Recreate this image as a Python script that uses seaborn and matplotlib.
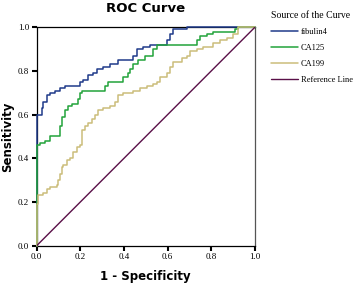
import numpy as np
import pandas as pd
import matplotlib
matplotlib.use("Agg")
import matplotlib.pyplot as plt
import seaborn as sns

# step points: (1 - specificity where the jump happens, sensitivity after the jump)
fib_x = [0.0, 0.023, 0.030, 0.046, 0.061, 0.084, 0.107, 0.130, 0.198, 0.214, 0.237,
         0.260, 0.275, 0.305, 0.336, 0.374, 0.443, 0.458, 0.489, 0.519, 0.595, 0.611,
         0.626, 0.687, 1.0]
fib_y = [0.60, 0.63, 0.66, 0.69, 0.70, 0.71, 0.72, 0.73, 0.75, 0.76, 0.78,
         0.79, 0.81, 0.82, 0.83, 0.85, 0.87, 0.90, 0.91, 0.92, 0.94, 0.97,
         0.99, 1.00, 1.00]

ca125_x = [0.0, 0.015, 0.038, 0.061, 0.107, 0.115, 0.130, 0.145, 0.160, 0.191, 0.198,
           0.206, 0.313, 0.328, 0.397, 0.420, 0.427, 0.443, 0.466, 0.496, 0.534, 0.550,
           0.733, 0.748, 0.779, 0.809, 0.908, 0.924, 1.0]
ca125_y = [0.46, 0.47, 0.48, 0.50, 0.55, 0.59, 0.62, 0.64, 0.65, 0.67, 0.70,
           0.71, 0.73, 0.75, 0.77, 0.79, 0.81, 0.83, 0.85, 0.87, 0.90, 0.92,
           0.94, 0.96, 0.97, 0.98, 0.99, 1.00, 1.00]

ca199_x = [0.0, 0.008, 0.031, 0.046, 0.061, 0.092, 0.099, 0.107, 0.115, 0.122, 0.137,
           0.153, 0.168, 0.183, 0.198, 0.206, 0.221, 0.237, 0.252, 0.267, 0.282, 0.305,
           0.336, 0.359, 0.374, 0.397, 0.443, 0.473, 0.504, 0.534, 0.550, 0.565, 0.595,
           0.611, 0.626, 0.664, 0.687, 0.702, 0.733, 0.763, 0.809, 0.840, 0.870, 0.901,
           0.924, 1.0]
ca199_y = [0.19, 0.23, 0.24, 0.26, 0.27, 0.28, 0.30, 0.33, 0.36, 0.37, 0.39,
           0.40, 0.43, 0.45, 0.46, 0.53, 0.55, 0.56, 0.58, 0.60, 0.62, 0.63,
           0.64, 0.66, 0.69, 0.70, 0.71, 0.72, 0.73, 0.74, 0.75, 0.77, 0.79,
           0.82, 0.84, 0.86, 0.87, 0.89, 0.90, 0.91, 0.93, 0.94, 0.95, 0.97,
           1.00, 1.00]

ref_x = [0.0, 1.0]
ref_y = [0.0, 1.0]

labels = ["fibulin4", "CA125", "CA199", "Reference Line"]
colors = ["#1f3a8a", "#22a33a", "#cbbd7a", "#5a1048"]

sns.set_theme(style="ticks")
plt.rcParams.update({"text.color": "black", "axes.labelcolor": "black",
                     "xtick.color": "black", "ytick.color": "black"})

fig = plt.figure(figsize=(3.58, 2.84), dpi=100)
ax = fig.add_axes([0.1025, 0.135, 0.6095, 0.769])

series = [(fib_x, fib_y), (ca125_x, ca125_y), (ca199_x, ca199_y)]
# blue at the bottom, tan on top, reference line last
for (xs, ys), lab, col in zip(series, labels[:3], colors[:3]):
    sns.lineplot(x=[0.0] + xs, y=[0.0] + ys, ax=ax, color=col, linewidth=1.1,
                 drawstyle="steps-post", sort=False, estimator=None, label=lab,
                 zorder=3, clip_on=False)
sns.lineplot(x=ref_x, y=ref_y, ax=ax, color=colors[3], linewidth=1.0,
             sort=False, estimator=None, label=labels[3], zorder=3)

ax.set_xlim(0, 1)
ax.set_ylim(0, 1)
ticks = [0.0, 0.2, 0.4, 0.6, 0.8, 1.0]
ax.set_xticks(ticks)
ax.set_yticks(ticks)
ax.set_xticklabels([f"{t:.1f}" for t in ticks], family="Liberation Serif", fontsize=6.5)
ax.set_yticklabels([f"{t:.1f}" for t in ticks], family="Liberation Serif", fontsize=6.5)
ax.tick_params(direction="out", length=3.5, width=1.5, colors="black", pad=2)
for s in ax.spines.values():
    s.set_color("black")
    s.set_linewidth(0.9)
ax.spines["right"].set_color("#555555")

ax.set_xlabel("1 - Specificity", fontsize=8.5, fontweight="bold", family="DejaVu Sans", labelpad=6)
ax.set_ylabel("Sensitivity", fontsize=8.5, fontweight="bold", family="DejaVu Sans", labelpad=3)
ax.set_title("ROC Curve", fontsize=9.5, fontweight="bold", family="DejaVu Sans", pad=11)

handles, labs = ax.get_legend_handles_labels()
order = [labs.index(l) for l in labels]
leg = ax.legend([handles[i] for i in order], [labs[i] for i in order],
                title="Source of the Curve", loc="upper left",
                bbox_to_anchor=(0.758, 0.96), bbox_transform=fig.transFigure,
                frameon=False, prop={"family": "Liberation Serif", "size": 6},
                handlelength=3.2, handletextpad=0.3, labelspacing=0.95,
                borderaxespad=0, borderpad=0)
leg.get_title().set_fontfamily("Liberation Serif")
leg.get_title().set_fontsize(7)
leg._legend_box.align = "left"

fig.savefig("out.png", dpi=100)
